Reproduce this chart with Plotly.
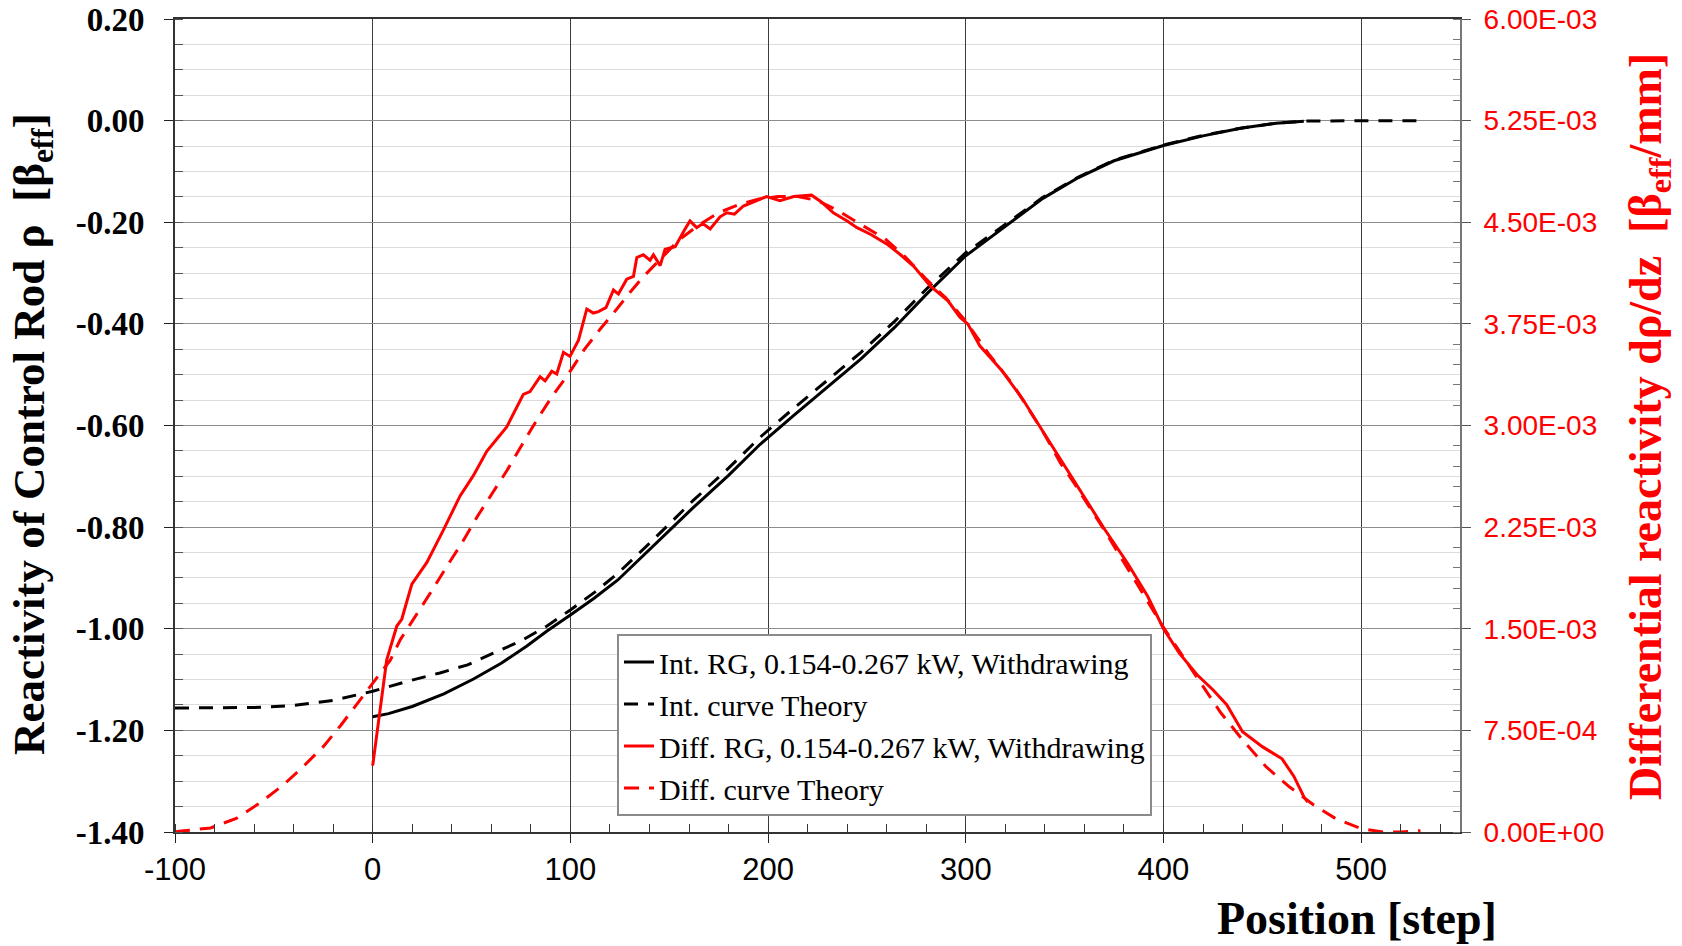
import plotly.graph_objects as go

# ---------------- data ----------------
INT_RG_X = [0, 8, 20, 36, 51, 65, 78, 88, 100, 112, 124, 140, 162, 180, 196, 213, 230,
            247, 264, 281, 300, 321, 339, 357, 375, 400, 420, 439, 457, 471]
INT_RG_Y = [-1.173, -1.167, -1.153, -1.128, -1.099, -1.068, -1.034, -1.005, -0.973, -0.940,
            -0.904, -0.845, -0.762, -0.698, -0.637, -0.580, -0.525, -0.469, -0.407, -0.338,
            -0.266, -0.205, -0.153, -0.112, -0.079, -0.049, -0.030, -0.015, -0.005, -0.001]

INT_TH_X = [-100, -80, -60, -40, -20, 0, 19, 34, 48, 61, 75, 88, 100, 112, 124, 140, 162,
            180, 196, 213, 230, 247, 264, 281, 300, 321, 339, 357, 375, 400, 420, 439, 457,
            471, 490, 510, 530]
INT_TH_Y = [-1.156, -1.156, -1.155, -1.151, -1.141, -1.123, -1.102, -1.087, -1.071, -1.048,
            -1.024, -0.995, -0.963, -0.929, -0.891, -0.832, -0.748, -0.684, -0.623, -0.566,
            -0.511, -0.456, -0.395, -0.328, -0.260, -0.202, -0.151, -0.111, -0.078, -0.048,
            -0.029, -0.015, -0.005, -0.001, 0.000, 0.000, 0.000]

DIFF_UNIT = 1e-3
DIFF_RG_X = [0, 4.6, 7.1, 12.2, 14.7, 19.8, 27.4, 35.8, 44.2, 50.9, 57.7, 62.8, 67.8, 76.2,
             79.6, 84.7, 87.2, 90.6, 93.1, 96.5, 99.8, 104.1, 108.3, 111.6, 114.2, 118, 121.8,
             124.3, 128.5, 131.9, 133.6, 136.9, 140.3, 142, 145.4, 147.9, 153, 158, 160.5,
             163.9, 167, 170.7, 175.7, 179.1, 183, 187.5, 196, 199.3, 206, 213, 222, 227, 233,
             240, 245, 252, 260, 267, 274, 282, 291, 297, 301, 307, 318, 329, 338, 348, 358,
             370, 382, 392, 400, 408, 417, 425, 432, 440, 450, 460, 466, 471, 473]
DIFF_RG_Y = [0.49, 0.98, 1.27, 1.52, 1.57, 1.83, 1.99, 2.23, 2.48, 2.63, 2.81, 2.90, 2.99, 3.23,
             3.25, 3.36, 3.33, 3.40, 3.38, 3.54, 3.51, 3.63, 3.86, 3.83, 3.84, 3.87, 4.00,
             3.97, 4.08, 4.10, 4.24, 4.26, 4.22, 4.26, 4.18, 4.30, 4.32, 4.45, 4.51,
             4.46, 4.49, 4.45, 4.54, 4.57, 4.56, 4.62, 4.67, 4.69, 4.66, 4.69, 4.70, 4.65, 4.57,
             4.51, 4.46, 4.41, 4.34, 4.26, 4.17, 4.03, 3.92, 3.80, 3.75, 3.59, 3.41, 3.19, 2.98,
             2.75, 2.51, 2.24, 1.98, 1.74, 1.50, 1.32, 1.16, 1.05, 0.94, 0.74, 0.63, 0.54, 0.41,
             0.26, 0.22]

DIFF_TH_X = [-100, -98, -82, -69, -57, -45, -35, -25, -16, -6, 0, 9, 14, 23, 29, 37.5, 45, 53,
             60, 68, 76, 83, 91, 99, 107, 115, 123.5, 130, 137, 145, 155, 165, 175, 185, 195,
             205, 215, 225, 235, 245, 259, 269, 280, 290, 300, 312, 324, 331, 340, 348, 355,
             370, 385, 400, 417, 429, 440, 452, 464, 476, 487, 500, 511, 520, 530]
DIFF_TH_Y = [0.0, 0.005, 0.03, 0.10, 0.215, 0.35, 0.485, 0.63, 0.79, 0.98, 1.10, 1.27, 1.42,
             1.62, 1.76, 1.96, 2.13, 2.33, 2.49, 2.67, 2.87, 3.04, 3.22, 3.38, 3.56, 3.71, 3.86,
             3.98, 4.10, 4.22, 4.37, 4.48, 4.57, 4.63, 4.67, 4.69, 4.69, 4.66, 4.59, 4.50,
             4.38, 4.25, 4.08, 3.94, 3.77, 3.52, 3.30, 3.14, 2.93, 2.72, 2.57, 2.23, 1.87,
             1.51, 1.14, 0.88, 0.68, 0.48, 0.33, 0.20, 0.10, 0.025, 0.0, 0.0, 0.01]

X_TICKS = [-100, 0, 100, 200, 300, 400, 500]
X_TICK_TEXT = ["-100", "0", "100", "200", "300", "400", "500"]
Y_TICKS = [0.20, 0.00, -0.20, -0.40, -0.60, -0.80, -1.00, -1.20, -1.40]
Y_TICK_TEXT = ["0.20", "0.00", "-0.20", "-0.40", "-0.60", "-0.80", "-1.00", "-1.20", "-1.40"]
Y2_TICKS = [0.0, 0.75e-3, 1.5e-3, 2.25e-3, 3.0e-3, 3.75e-3, 4.5e-3, 5.25e-3, 6.0e-3]
Y2_TICK_TEXT = ["0.00E+00", "7.50E-04", "1.50E-03", "2.25E-03", "3.00E-03", "3.75E-03",
                "4.50E-03", "5.25E-03", "6.00E-03"]

NAMES = ["Int. RG, 0.154-0.267 kW, Withdrawing", "Int. curve Theory",
         "Diff. RG, 0.154-0.267 kW, Withdrawing", "Diff. curve Theory"]

# ---------------- figure ----------------
W, H = 1682, 946
L, R, T, B = 175, 222, 19, 114
SERIF = "Liberation Serif"
SANS = "Liberation Sans"

fig = go.Figure()
fig.add_trace(go.Scatter(x=INT_RG_X, y=INT_RG_Y, name=NAMES[0], mode="lines",
                         line=dict(color="black", width=3), legendgroup="g1"))
fig.add_trace(go.Scatter(x=INT_TH_X, y=INT_TH_Y, name=NAMES[1], mode="lines",
                         line=dict(color="black", width=3, dash="14px,10px"), legendgroup="g2"))
fig.add_trace(go.Scatter(x=DIFF_RG_X, y=[v * DIFF_UNIT for v in DIFF_RG_Y], name=NAMES[2],
                         mode="lines", line=dict(color="#ff0000", width=3), yaxis="y2",
                         legendgroup="g3"))
fig.add_trace(go.Scatter(x=DIFF_TH_X, y=[v * DIFF_UNIT for v in DIFF_TH_Y], name=NAMES[3],
                         mode="lines", line=dict(color="#ff0000", width=3, dash="15px,10px"),
                         yaxis="y2", legendgroup="g4"))

def px_x(p):
    return (p - L) / (W - L - R)

def px_y(p):
    return (H - B - p) / (H - T - B)

fig.update_layout(
    width=W, height=H, autosize=False,
    margin=dict(l=L, r=R, t=T, b=B, pad=0, autoexpand=False),
    plot_bgcolor="white", paper_bgcolor="white",
    showlegend=True,
    legend=dict(x=px_x(617), y=px_y(634), xanchor="left", yanchor="top",
                bgcolor="white", bordercolor="#8a8a8a", borderwidth=2,
                font=dict(family=SERIF, size=30, color="black"),
                tracegroupgap=0, traceorder="normal"),
    xaxis=dict(range=[-100, 550], tickmode="array", tickvals=X_TICKS, ticktext=X_TICK_TEXT,
               automargin=False,
               showgrid=True, gridcolor="#3c3c3c", gridwidth=1, zeroline=False,
               ticks="outside", ticklen=9, tickwidth=1, tickcolor="#222",
               showline=True, linecolor="#333", linewidth=2, mirror=True,
               tickfont=dict(family=SANS, size=31, color="black"),
               minor=dict(tickmode="linear", tick0=-100, dtick=20, ticks="inside",
                          ticklen=8, tickcolor="#333", showgrid=False)),
    yaxis=dict(range=[-1.4, 0.2], tickmode="array", tickvals=Y_TICKS, ticktext=Y_TICK_TEXT,
               automargin=False, ticklabelstandoff=13,
               showgrid=True, gridcolor="#8c8c8c", gridwidth=1, zeroline=False,
               ticks="outside", ticklen=9, tickwidth=1, tickcolor="#222",
               showline=True, linecolor="#333", linewidth=2, mirror=False,
               tickfont=dict(family=SERIF, size=33, color="black", weight="bold"),
               minor=dict(tickmode="linear", tick0=-1.4, dtick=0.05, ticks="inside",
                          ticklen=8, tickcolor="#555", showgrid=True,
                          gridcolor="#dcdcdc", gridwidth=1)),
    yaxis2=dict(range=[0, 6e-3], overlaying="y", side="right", tickmode="array",
                automargin=False, ticklabelstandoff=7,
                tickvals=Y2_TICKS, ticktext=Y2_TICK_TEXT, showgrid=False, zeroline=False,
                ticks="outside", ticklen=9, tickwidth=1, tickcolor="#555",
                showline=True, linecolor="#777", linewidth=2,
                tickfont=dict(family=SANS, size=28, color="#ff0000"),
                minor=dict(tickmode="linear", tick0=0, dtick=0.15e-3, ticks="inside",
                           ticklen=7, tickcolor="#777", showgrid=False)),
    annotations=[
        dict(text="Reactivity of Control Rod ρ\u00a0 [β<sub>eff</sub>]", textangle=-90,
             xref="paper", yref="paper", x=px_x(32), y=px_y(434), showarrow=False,
             xanchor="center", yanchor="middle",
             font=dict(family=SERIF, size=45, color="black", weight="bold")),
        dict(text="Differential reactivity dρ/dz\u00a0 [β<sub>eff</sub>/mm]", textangle=-90,
             xref="paper", yref="paper", x=px_x(1649), y=px_y(427), showarrow=False,
             xanchor="center", yanchor="middle",
             font=dict(family=SERIF, size=46, color="#ff0000", weight="bold")),
        dict(text="Position [step]", xref="paper", yref="paper", x=px_x(1357), y=px_y(946),
             showarrow=False, xanchor="center", yanchor="bottom",
             font=dict(family=SERIF, size=46, color="black", weight="bold")),
    ],
)

fig.write_html("out.html", config={"displayModeBar": False},
               post_script="document.body.style.margin='0';document.body.style.overflow='hidden';")
